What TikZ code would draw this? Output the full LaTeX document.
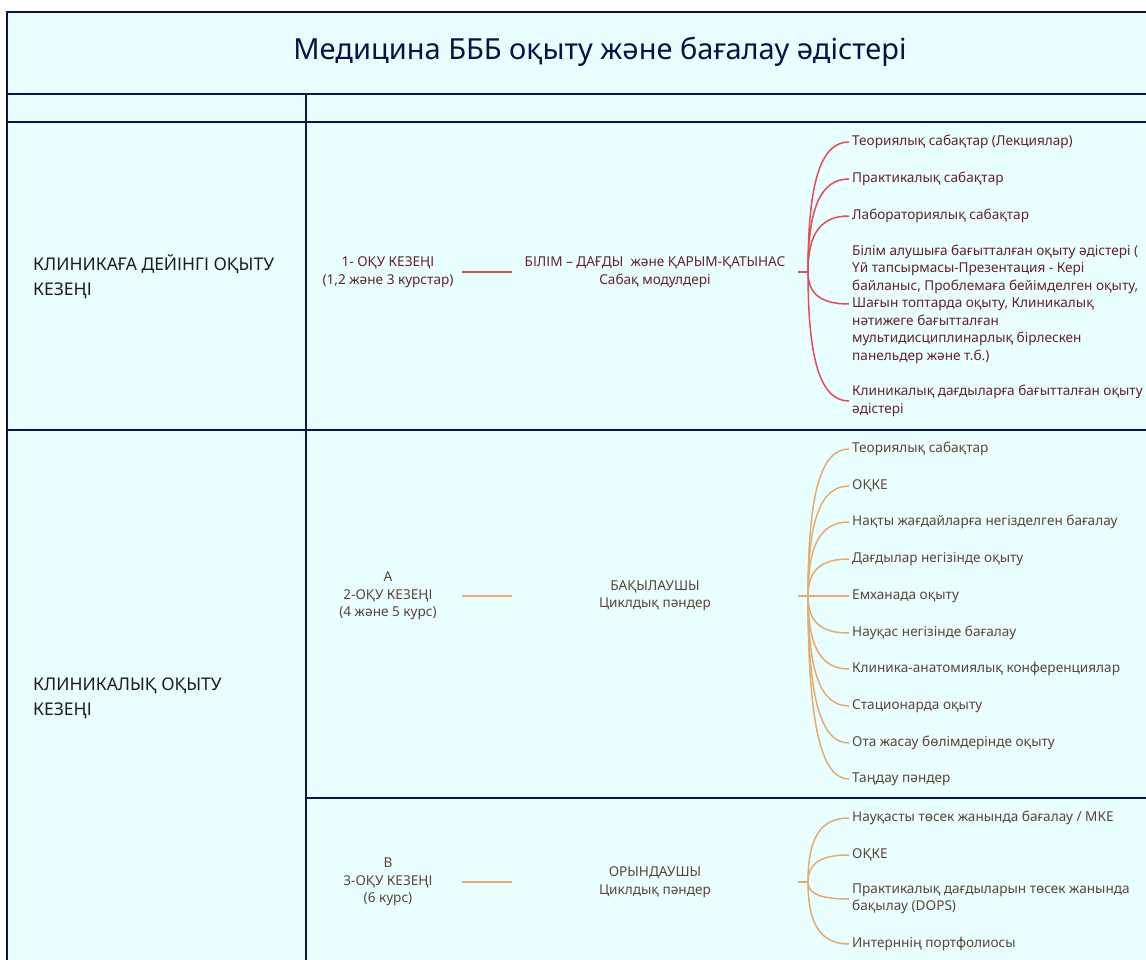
\documentclass[tikz,border=0pt]{standalone}
\usepackage{fontspec}
\setmainfont{Noto Sans}
\usetikzlibrary{positioning}

\newlength{\du}
\setlength{\du}{1pt}

\definecolor{cellcolor}{rgb}{0.914, 1.000, 1.000}
\definecolor{gridcolor}{rgb}{0.070, 0.070, 0.290}
\definecolor{titlecolor}{rgb}{0.047, 0.063, 0.290}
\definecolor{leftcolor}{rgb}{0.110, 0.110, 0.120}
\definecolor{redline}{rgb}{0.910, 0.290, 0.340}
\definecolor{redtext}{rgb}{0.400, 0.130, 0.180}
\definecolor{orangeline}{rgb}{0.910, 0.670, 0.430}
\definecolor{browntext}{rgb}{0.360, 0.270, 0.210}

\tikzset{
  grid line/.style={draw=gridcolor, line width=2.2\du},
  mapfont/.style={font=\fontsize{13.6}{17.5}\selectfont},
  stage/.style={mapfont, align=center, minimum width=148\du, inner sep=0pt},
  module/.style={mapfont, align=center, minimum width=286\du, inner sep=0pt},
  leaf/.style={mapfont, anchor=west, align=left, inner sep=3\du},
  period/.style={anchor=west, align=left, inner sep=3\du, text=leftcolor,
    font=\fontsize{17.5}{25}\selectfont},
  red branch/.style={draw=redline, line width=1.5\du},
  orange branch/.style={draw=orangeline, line width=1.5\du},
}

\begin{document}
\begin{tikzpicture}
\pgftransformyscale{-1}
\useasboundingbox (0,0) rectangle (1146\du,960\du);

% table cells
\fill[cellcolor] (7\du,12\du) rectangle (1146\du,960\du);
\draw[grid line] (7\du,960\du)--(7\du,12\du)--(1146\du,12\du);
\draw[grid line] (7\du,94\du)--(1146\du,94\du);
\draw[grid line] (7\du,122\du)--(1146\du,122\du);
\draw[grid line] (306\du,94\du)--(306\du,960\du);
\draw[grid line] (7\du,430\du)--(1146\du,430\du);
\draw[grid line] (306\du,798\du)--(1146\du,798\du);

% title
\node[text=titlecolor, font=\fontsize{29}{34}\selectfont] (title) at (600\du,52\du)
  {Медицина БББ оқыту және бағалау әдістері};

% periods
\node[period] (preclin) at (30\du,277\du) {КЛИНИКАҒА ДЕЙІНГІ ОҚЫТУ\\КЕЗЕҢІ};
\node[period] (clin) at (30\du,698\du) {КЛИНИКАЛЫҚ ОҚЫТУ\\КЕЗЕҢІ};

% stage 1
\node[stage, text=redtext] (s1) at (388\du,272\du) {1- ОҚУ КЕЗЕҢІ\\(1,2 және 3 курстар)};
\node[module, text=redtext] (m1) at (655\du,272\du) {БІЛІМ – ДАҒДЫ\ \ және ҚАРЫМ-ҚАТЫНАС\\Сабақ модулдері};
\coordinate (r1) at (808\du,272\du);
\draw[red branch, line width=2\du] (s1.east)--(m1.west);
\draw[red branch] (m1.east)--(r1);

\node[leaf, text=redtext] (l11) at (849\du,142\du) {Теориялық сабақтар (Лекциялар)};
\node[leaf, text=redtext] (l12) at (849\du,179\du) {Практикалық сабақтар};
\node[leaf, text=redtext] (l13) at (849\du,216\du) {Лабораториялық сабақтар};
\node[leaf, text=redtext] (l14) at (849\du,304\du) {Білім алушыға бағытталған оқыту әдістері (\\Үй тапсырмасы-Презентация - Кері\\байланыс, Проблемаға бейімделген оқыту,\\Шағын топтарда оқыту, Клиникалық\\нәтижеге бағытталған\\мультидисциплинарлық бірлескен\\панельдер және т.б.)};
\node[leaf, text=redtext] (l15) at (849\du,401\du) {Клиникалық дағдыларға бағытталған оқыту\\әдістері};

\draw[red branch] (r1) .. controls +(0,-91\du) and +(-28\du,0) .. (l11.west);
\draw[red branch] (r1) .. controls +(0,-65\du) and +(-28\du,0) .. (l12.west);
\draw[red branch] (r1) .. controls +(0,-39\du) and +(-28\du,0) .. (l13.west);
\draw[red branch] (r1) .. controls +(0,22\du) and +(-28\du,0) .. (l14.west);
\draw[red branch] (r1) .. controls +(0,90\du) and +(-28\du,0) .. (l15.west);

% stage 2
\node[stage, text=browntext] (s2) at (388\du,596\du) {А\\2-ОҚУ КЕЗЕҢІ\\(4 және 5 курс)};
\node[module, text=browntext] (m2) at (655\du,596\du) {БАҚЫЛАУШЫ\\Циклдық пәндер};
\coordinate (r2) at (808\du,596\du);
\draw[orange branch, line width=2\du] (s2.east)--(m2.west);
\draw[orange branch] (m2.east)--(r2);

\node[leaf, text=browntext] (l21) at (849\du,449\du) {Теориялық сабақтар};
\node[leaf, text=browntext] (l22) at (849\du,486\du) {ОҚКЕ};
\node[leaf, text=browntext] (l23) at (849\du,522\du) {Нақты жағдайларға негізделген бағалау};
\node[leaf, text=browntext] (l24) at (849\du,559\du) {Дағдылар негізінде оқыту};
\node[leaf, text=browntext] (l25) at (849\du,596\du) {Емханада оқыту};
\node[leaf, text=browntext] (l26) at (849\du,633\du) {Науқас негізінде бағалау};
\node[leaf, text=browntext] (l27) at (849\du,669\du) {Клиника-анатомиялық конференциялар};
\node[leaf, text=browntext] (l28) at (849\du,706\du) {Стационарда оқыту};
\node[leaf, text=browntext] (l29) at (849\du,743\du) {Ота жасау бөлімдерінде оқыту};
\node[leaf, text=browntext] (l210) at (849\du,779\du) {Таңдау пәндер};

\draw[orange branch] (r2) .. controls +(0,-103\du) and +(-28\du,0) .. (l21.west);
\draw[orange branch] (r2) .. controls +(0,-77\du) and +(-28\du,0) .. (l22.west);
\draw[orange branch] (r2) .. controls +(0,-52\du) and +(-28\du,0) .. (l23.west);
\draw[orange branch] (r2) .. controls +(0,-26\du) and +(-28\du,0) .. (l24.west);
\draw[orange branch] (r2)--(l25.west);
\draw[orange branch] (r2) .. controls +(0,26\du) and +(-28\du,0) .. (l26.west);
\draw[orange branch] (r2) .. controls +(0,51\du) and +(-28\du,0) .. (l27.west);
\draw[orange branch] (r2) .. controls +(0,77\du) and +(-28\du,0) .. (l28.west);
\draw[orange branch] (r2) .. controls +(0,103\du) and +(-28\du,0) .. (l29.west);
\draw[orange branch] (r2) .. controls +(0,128\du) and +(-28\du,0) .. (l210.west);

% stage 3
\node[stage, text=browntext] (s3) at (388\du,882\du) {В\\3-ОҚУ КЕЗЕҢІ\\(6 курс)};
\node[module, text=browntext] (m3) at (655\du,882\du) {ОРЫНДАУШЫ\\Циклдық пәндер};
\coordinate (r3) at (808\du,882\du);
\draw[orange branch, line width=2\du] (s3.east)--(m3.west);
\draw[orange branch] (m3.east)--(r3);

\node[leaf, text=browntext] (l31) at (849\du,818\du) {Науқасты төсек жанында бағалау / МКЕ};
\node[leaf, text=browntext] (l32) at (849\du,855\du) {ОҚКЕ};
\node[leaf, text=browntext] (l33) at (849\du,899\du) {Практикалық дағдыларын төсек жанында\\бақылау (DOPS)};
\node[leaf, text=browntext] (l34) at (849\du,944\du) {Интерннің портфолиосы};

\draw[orange branch] (r3) .. controls +(0,-45\du) and +(-28\du,0) .. (l31.west);
\draw[orange branch] (r3) .. controls +(0,-19\du) and +(-28\du,0) .. (l32.west);
\draw[orange branch] (r3) .. controls +(0,12\du) and +(-28\du,0) .. (l33.west);
\draw[orange branch] (r3) .. controls +(0,43\du) and +(-28\du,0) .. (l34.west);
\end{tikzpicture}
\end{document}
